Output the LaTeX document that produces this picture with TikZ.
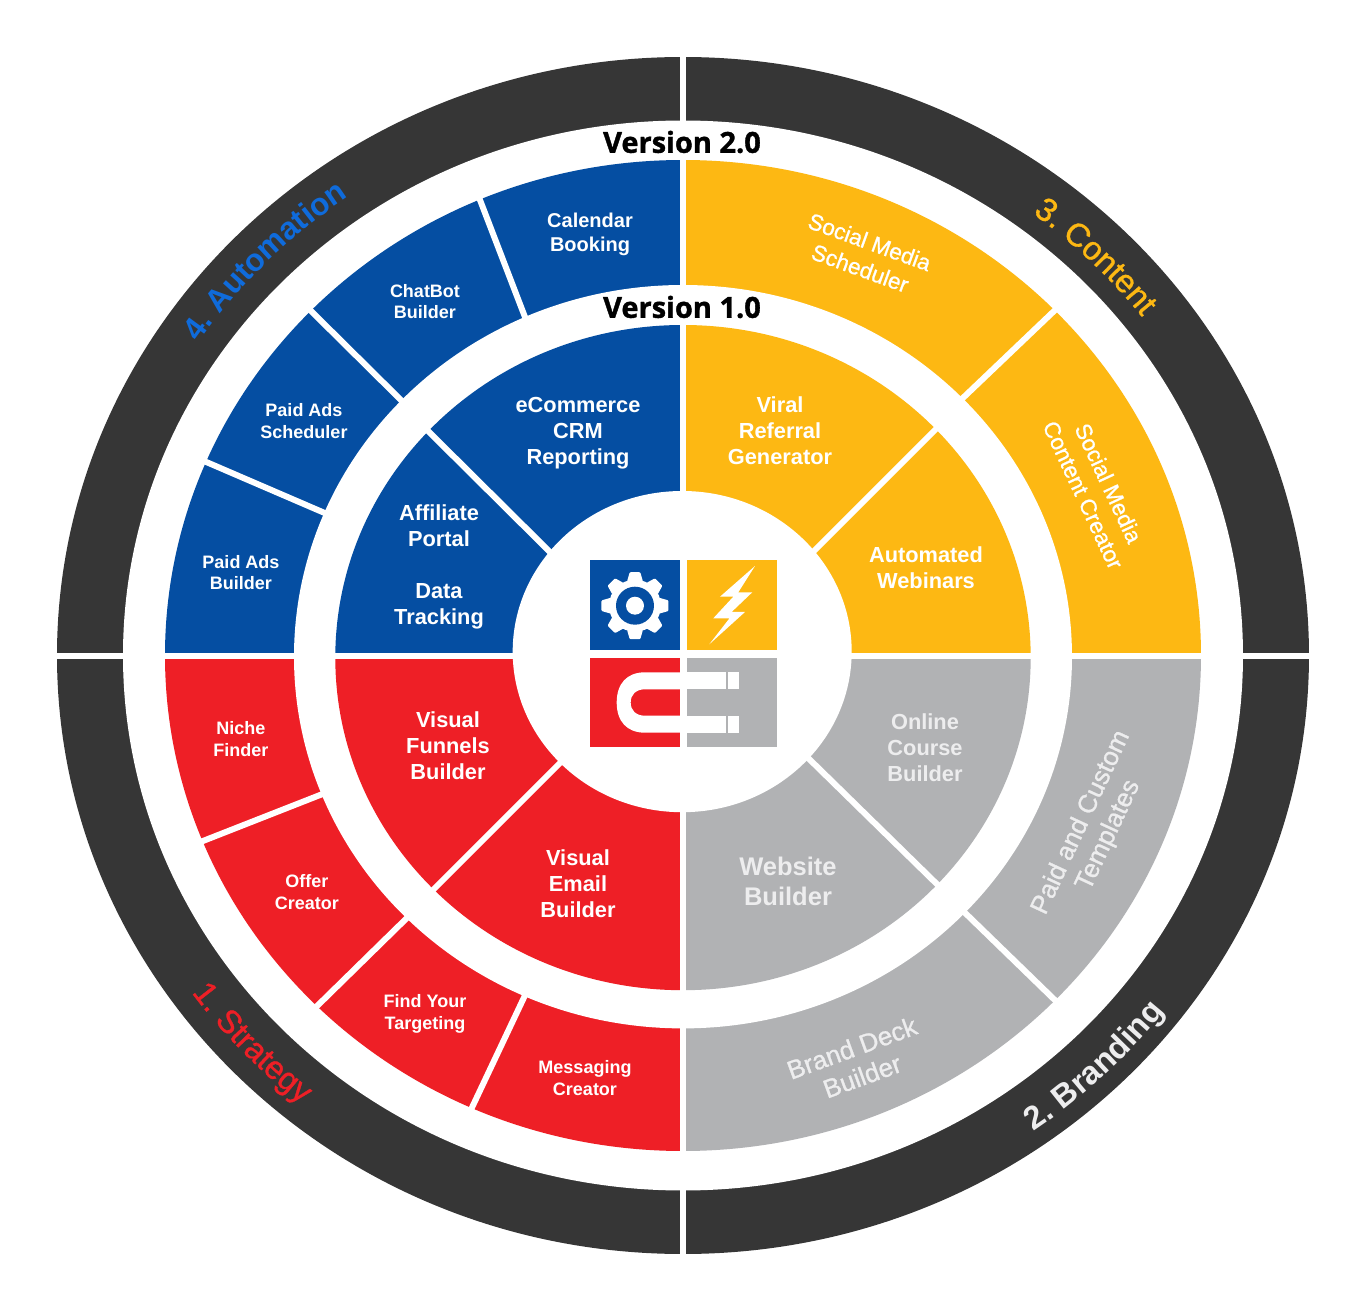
\documentclass[tikz,border=0pt]{standalone}
\usepackage{fontspec}
\setmainfont{Liberation Sans}
\newfontfamily\ringfont[FakeBold=1]{Liberation Sans}
\newfontfamily\versionfont[BoldFeatures={FakeBold=1.2}]{Open Sans}
\usetikzlibrary{decorations.text}
\definecolor{ringdark}{HTML}{363636}
\definecolor{wheelblue}{HTML}{054EA2}
\definecolor{wheelgold}{HTML}{FDB813}
\definecolor{wheelred}{HTML}{EE1F26}
\definecolor{wheelgray}{HTML}{B1B2B4}
\definecolor{autoblue}{HTML}{0F6BDB}
\definecolor{paletext}{HTML}{EDEDEE}

\begin{document}
\begin{tikzpicture}[
  x=1pt, y=1pt,
  divider/.style={draw=white, line width=6pt},
  cross/.style={draw=white, line width=6.6pt},
  small/.style={text=white, align=center, font=\fontsize{18}{21.5}\selectfont\bfseries},
  medium/.style={text=white, align=center, font=\fontsize{21.8}{26}\selectfont\bfseries},
  tilted/.style={text=white, align=center, font=\fontsize{22.5}{28}\selectfont\ringfont},
  tiltedbig/.style={text=paletext, align=center, font=\fontsize{26}{30}\selectfont\ringfont},
  version/.style={font=\fontsize{29}{29}\selectfont\versionfont\bfseries},
  tooth/.style={fill=white, rounded corners=1pt}]
  \useasboundingbox (-683,-656.5) rectangle (683,655.5);
  % outer ring
  \fill[ringdark] (0,0) ellipse [x radius=626, y radius=598.5];
  \fill[white] (0,0) ellipse [x radius=560, y radius=535];
  % version 2.0 ring
  \fill[wheelgold] (0,0) -- (90:518 and 495.5) arc[start angle=90, end angle=0, x radius=518, y radius=495.5] -- cycle;
  \fill[wheelgray] (0,0) -- (0:518 and 495.5) arc[start angle=0, end angle=-90, x radius=518, y radius=495.5] -- cycle;
  \fill[wheelred] (0,0) -- (270:518 and 495.5) arc[start angle=270, end angle=180, x radius=518, y radius=495.5] -- cycle;
  \fill[wheelblue] (0,0) -- (180:518 and 495.5) arc[start angle=180, end angle=90, x radius=518, y radius=495.5] -- cycle;
  \draw[divider] (271,249) -- (380,353);
  \draw[divider] (-207,466) -- (-154,328);
  \draw[divider] (-378,350.5) -- (-275,248.5);
  \draw[divider] (-486,197.5) -- (-349,138.5);
  \draw[divider] (-489,-189) -- (-354,-136);
  \draw[divider] (-372,-356.5) -- (-271,-257.5);
  \draw[divider] (-215,-460.5) -- (-155,-333.5);
  \draw[divider] (277,-252.5) -- (379,-351.5);
  \fill[white] (0,-1.2) ellipse [x radius=389, y radius=371.7];
  % version 1.0 ring
  \fill[wheelgold] (0,-2.1) -- +(90:347.7 and 332.6) arc[start angle=90, end angle=0, x radius=347.7, y radius=332.6] -- cycle;
  \fill[wheelgray] (0,-2.1) -- +(0:347.7 and 332.6) arc[start angle=0, end angle=-90, x radius=347.7, y radius=332.6] -- cycle;
  \fill[wheelred] (0,-2.1) -- +(270:347.7 and 332.6) arc[start angle=270, end angle=180, x radius=347.7, y radius=332.6] -- cycle;
  \fill[wheelblue] (0,-2.1) -- +(180:347.7 and 332.6) arc[start angle=180, end angle=90, x radius=347.7, y radius=332.6] -- cycle;
  \draw[divider] (125,98.5) -- (259,232.5);
  \draw[divider] (-263,232.5) -- (-126,96.5);
  \draw[divider] (-255,-239.5) -- (-118,-102.5);
  \draw[divider] (120,-97.5) -- (262,-236.5);
  \fill[white] (-0.8,3.9) ellipse [x radius=169.5, y radius=160.6];
  % quarter gaps
  \draw[cross] (0,-610) -- (0,610);
  \draw[cross] (-640,-0.5) -- (640,-0.5);
  % centre squares
  \fill[wheelblue] (-93.3,5.5) rectangle (-3,95.2);
  \fill[wheelgold] (4,5.5) rectangle (94,95.2);
  \fill[wheelred] (-93.3,-2.5) rectangle (-3,-91.8);
  \fill[wheelgray] (4,-2.5) rectangle (94,-91.8);
  % gear
  \fill[white] (-48,49.8) circle (26);
  \fill[tooth, shift={(-48,49.8)}, rotate=0] (-8,24) -- (-5.3,33.5) -- (5.3,33.5) -- (8,24) -- cycle;
  \fill[tooth, shift={(-48,49.8)}, rotate=45] (-8,24) -- (-5.3,33.5) -- (5.3,33.5) -- (8,24) -- cycle;
  \fill[tooth, shift={(-48,49.8)}, rotate=90] (-8,24) -- (-5.3,33.5) -- (5.3,33.5) -- (8,24) -- cycle;
  \fill[tooth, shift={(-48,49.8)}, rotate=135] (-8,24) -- (-5.3,33.5) -- (5.3,33.5) -- (8,24) -- cycle;
  \fill[tooth, shift={(-48,49.8)}, rotate=180] (-8,24) -- (-5.3,33.5) -- (5.3,33.5) -- (8,24) -- cycle;
  \fill[tooth, shift={(-48,49.8)}, rotate=225] (-8,24) -- (-5.3,33.5) -- (5.3,33.5) -- (8,24) -- cycle;
  \fill[tooth, shift={(-48,49.8)}, rotate=270] (-8,24) -- (-5.3,33.5) -- (5.3,33.5) -- (8,24) -- cycle;
  \fill[tooth, shift={(-48,49.8)}, rotate=315] (-8,24) -- (-5.3,33.5) -- (5.3,33.5) -- (8,24) -- cycle;
  \fill[wheelblue] (-48,49.8) circle (19);
  \fill[white] (-48,49.8) circle (9);
  % bolt
  \fill[white] (72,89.5) -- (37,58.8) -- (50.3,58.8) -- (30.3,37.2) -- (46.5,37.2) -- (26.3,11.2) -- (62,43.5) -- (48.6,43.5) -- (69.3,63.2) -- (55.3,63.2) -- cycle;
  % magnet
  \fill[white] (-3,-16.8) -- (-38,-16.8) .. controls (-56,-16.8) and (-66.3,-28) .. (-66.3,-47) .. controls (-66.3,-66) and (-56,-77.2) .. (-38,-77.2) -- (-3,-77.2) -- (-3,-60.2) -- (-38,-60.2) .. controls (-47,-60.2) and (-52.3,-55) .. (-52.3,-47) .. controls (-52.3,-39) and (-47,-33.8) .. (-38,-33.8) -- (-3,-33.8) -- cycle;
  \fill[white] (4,-16.8) rectangle (42.7,-33.8);
  \fill[white] (4,-60.2) rectangle (42.7,-77.2);
  \fill[white] (44.7,-16.8) rectangle (55.7,-33.8);
  \fill[white] (44.7,-60.2) rectangle (55.7,-77.2);
  % version titles
  \node[version] (version2) at (-1,513.5) {Version 2.0};
  \node[version] (version1) at (-1,348.5) {Version 1.0};
  % version 2.0 labels
  \node[small, font=\fontsize{20}{24}\selectfont\bfseries] (calendar) at (-93,421.5) {Calendar\\Booking};
  \node[small] (chatbot) at (-258,354) {ChatBot\\Builder};
  \node[small] (adsscheduler) at (-379,234.5) {Paid Ads\\Scheduler};
  \node[small] (adsbuilder) at (-442,83) {Paid Ads\\Builder};
  \node[small] (niche) at (-442,-83.5) {Niche\\Finder};
  \node[small] (offer) at (-376,-236.5) {Offer\\Creator};
  \node[small] (targeting) at (-258,-358.5) {Find Your\\Targeting};
  \node[small] (messaging) at (-98,-422.5) {Messaging\\Creator};
  \node[tilted, rotate=-20] (scheduler) at (182,400.5) {Social Media\\Scheduler};
  \node[tilted, rotate=-65] (contentcreator) at (413,166.5) {Social Media\\Content Creator};
  \node[tiltedbig, rotate=65] (templates) at (412,-173.5) {Paid and Custom\\Templates};
  \node[tiltedbig, rotate=20] (branddeck) at (174,-406.5) {Brand Deck\\Builder};
  % version 1.0 labels
  \node[medium] (ecommerce) at (-105,222.5) {eCommerce\\CRM\\Reporting};
  \node[medium] (affiliate) at (-244,88.5) {Affiliate\\Portal\\[26pt]Data\\Tracking};
  \node[medium] (viral) at (97,224.5) {Viral\\Referral\\Generator};
  \node[medium] (webinars) at (243,87.5) {Automated\\Webinars};
  \node[medium, text=paletext] (course) at (242,-92.5) {Online\\Course\\Builder};
  \node[medium, text=paletext, font=\fontsize{25.5}{30}\selectfont\bfseries] (website) at (105,-225.5) {Website\\Builder};
  \node[medium] (funnels) at (-235,-90.5) {Visual\\Funnels\\Builder};
  \node[medium] (email) at (-105,-228.5) {Visual\\Email\\Builder};
  % outer ring labels
  \path[decorate, decoration={text along path, text align=center, text={|\fontsize{32.7}{33}\selectfont\ringfont\color{wheelgold}|3. Content}}] (75:580 and 554) arc[start angle=75, end angle=15, x radius=580, y radius=554];
  \path[decorate, decoration={text along path, text align=center, text={|\fontsize{31.5}{33}\selectfont\bfseries\color{autoblue}|4. Automation}}] (165.7:585 and 559) arc[start angle=165.7, end angle=105.7, x radius=585, y radius=559];
  \path[decorate, decoration={text along path, text align=center, text={|\fontsize{32.5}{33}\selectfont\ringfont\color{wheelred}|1. Strategy}}] (193:605 and 578) arc[start angle=193, end angle=253, x radius=605, y radius=578];
  \path[decorate, decoration={text along path, text align=center, text={|\fontsize{32.5}{33}\selectfont\bfseries\color{paletext}|2. Branding}}] (284:609 and 582) arc[start angle=284, end angle=344, x radius=609, y radius=582];
\end{tikzpicture}
\end{document}
